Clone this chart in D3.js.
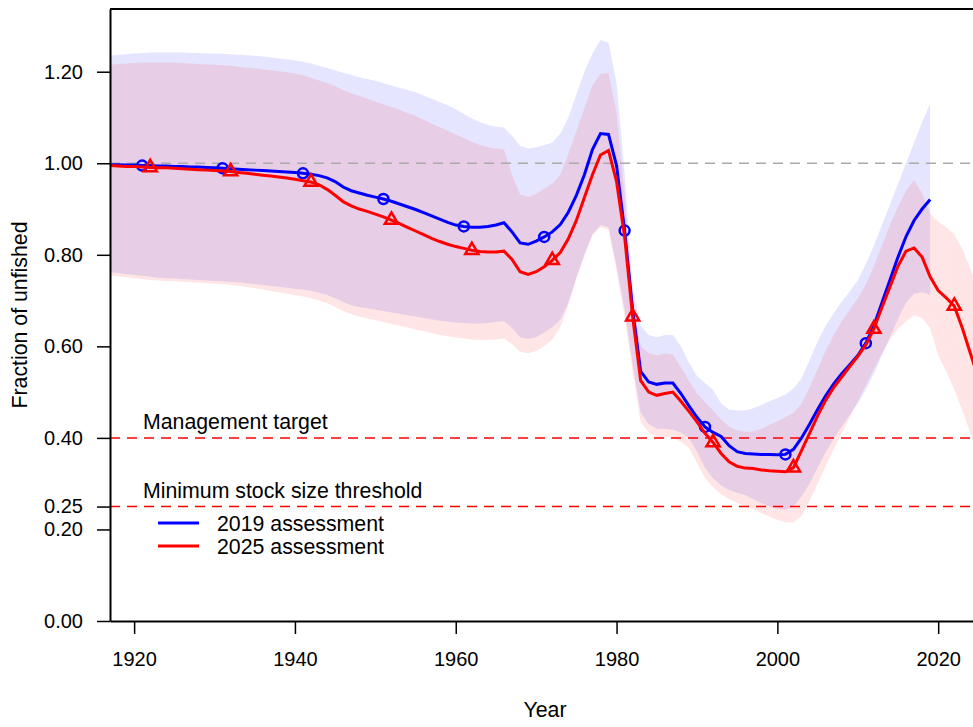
<!DOCTYPE html>
<html>
<head>
<meta charset="utf-8">
<script src="https://cdn.jsdelivr.net/npm/d3@7"></script>
<style>
  body { margin: 0; background: #fff; }
  text { font-family: "Liberation Sans", Arial, sans-serif; }
</style>
</head>
<body>
<div id="chart"></div>
<script>
// ---- data ----
const years2019 = d3.range(1917, 2020);
const years2025 = d3.range(1917, 2026);

const est2019 = [
  0.997, 0.997, 0.996, 0.996, 0.995, 0.995, 0.994, 0.994, 0.993, 0.993,
  0.992, 0.992, 0.991, 0.990, 0.989, 0.988, 0.987, 0.986, 0.985, 0.984,
  0.983, 0.982, 0.981, 0.980, 0.978, 0.976, 0.973, 0.968, 0.960, 0.948,
  0.940, 0.935, 0.930, 0.926, 0.922, 0.917, 0.911, 0.905, 0.899, 0.892,
  0.885, 0.878, 0.871, 0.865, 0.862, 0.860, 0.860, 0.862, 0.865, 0.870,
  0.850, 0.826, 0.823, 0.830, 0.839, 0.850, 0.866, 0.893, 0.930, 0.975,
  1.030, 1.065, 1.063, 0.995, 0.853, 0.680, 0.545, 0.522, 0.517, 0.520,
  0.520, 0.497, 0.470, 0.445, 0.424, 0.412, 0.403, 0.383, 0.370, 0.366,
  0.365, 0.364, 0.364, 0.363, 0.364, 0.375, 0.400, 0.430, 0.462, 0.492,
  0.518, 0.540, 0.560, 0.580, 0.607, 0.645, 0.695, 0.745, 0.795, 0.840,
  0.875, 0.900, 0.921
];
const upper2019 = [
  1.235, 1.237, 1.238, 1.240, 1.241, 1.242, 1.242, 1.242, 1.242, 1.242,
  1.241, 1.241, 1.240, 1.240, 1.239, 1.238, 1.237, 1.236, 1.235, 1.233,
  1.231, 1.229, 1.227, 1.225, 1.222, 1.218, 1.213, 1.208, 1.203, 1.198,
  1.193, 1.188, 1.184, 1.180, 1.175, 1.170, 1.165, 1.160, 1.155, 1.148,
  1.141, 1.134, 1.127, 1.118, 1.108, 1.098, 1.090, 1.084, 1.080, 1.078,
  1.060, 1.038, 1.032, 1.035, 1.040, 1.045, 1.065, 1.100, 1.150, 1.200,
  1.240, 1.270, 1.263, 1.175, 0.980, 0.730, 0.645, 0.625, 0.620, 0.625,
  0.625, 0.600, 0.565, 0.535, 0.520, 0.505, 0.475, 0.462, 0.460, 0.460,
  0.465, 0.472, 0.480, 0.487, 0.495, 0.508, 0.530, 0.570, 0.610, 0.645,
  0.672, 0.698, 0.720, 0.745, 0.780, 0.820, 0.865, 0.910, 0.955, 1.000,
  1.045, 1.090, 1.130
];
const lower2019 = [
  0.762, 0.760, 0.758, 0.756, 0.754, 0.752, 0.750, 0.749, 0.748, 0.747,
  0.746, 0.745, 0.744, 0.743, 0.742, 0.741, 0.740, 0.738, 0.736, 0.734,
  0.732, 0.730, 0.728, 0.726, 0.724, 0.721, 0.717, 0.712, 0.705, 0.697,
  0.690, 0.686, 0.683, 0.680, 0.677, 0.674, 0.671, 0.668, 0.665, 0.662,
  0.659, 0.656, 0.654, 0.652, 0.651, 0.650, 0.650, 0.651, 0.653, 0.655,
  0.640, 0.620, 0.616, 0.620, 0.630, 0.642, 0.658, 0.695, 0.750, 0.800,
  0.845, 0.865, 0.860, 0.775, 0.680, 0.560, 0.455, 0.430, 0.420, 0.420,
  0.418, 0.412, 0.400, 0.370, 0.335, 0.312, 0.296, 0.286, 0.280, 0.275,
  0.266, 0.258, 0.250, 0.245, 0.243, 0.250, 0.272, 0.300, 0.335, 0.368,
  0.398, 0.425, 0.450, 0.475, 0.505, 0.540, 0.580, 0.620, 0.660, 0.695,
  0.715, 0.718, 0.712
];

const est2025 = [
  0.995, 0.994, 0.993, 0.993, 0.992, 0.991, 0.990, 0.990, 0.989, 0.988,
  0.987, 0.986, 0.985, 0.984, 0.983, 0.982, 0.980, 0.978, 0.976, 0.974,
  0.972, 0.970, 0.968, 0.965, 0.962, 0.959, 0.953, 0.943, 0.930, 0.916,
  0.907, 0.900, 0.895, 0.889, 0.883, 0.876, 0.868, 0.860, 0.852, 0.844,
  0.836, 0.829, 0.823, 0.818, 0.814, 0.810, 0.807, 0.806, 0.806, 0.808,
  0.790, 0.763, 0.757, 0.763, 0.774, 0.788, 0.805, 0.835, 0.875, 0.925,
  0.975, 1.018, 1.028, 0.960, 0.840, 0.665, 0.525, 0.500, 0.493, 0.497,
  0.500, 0.480, 0.458, 0.435, 0.410, 0.390, 0.366, 0.348, 0.338, 0.334,
  0.333, 0.330, 0.328, 0.327, 0.326, 0.335, 0.372, 0.410, 0.448, 0.482,
  0.510, 0.533, 0.556, 0.578, 0.603, 0.638, 0.685, 0.730, 0.775, 0.808,
  0.815, 0.795, 0.752, 0.722, 0.706, 0.688, 0.640, 0.585, 0.530
];
const upper2025 = [
  1.215, 1.217, 1.218, 1.219, 1.220, 1.220, 1.220, 1.220, 1.220, 1.219,
  1.218, 1.217, 1.216, 1.215, 1.214, 1.213, 1.211, 1.209, 1.207, 1.205,
  1.203, 1.201, 1.199, 1.196, 1.192, 1.187, 1.181, 1.175, 1.168, 1.160,
  1.153, 1.147, 1.141, 1.135, 1.129, 1.123, 1.117, 1.110, 1.103, 1.095,
  1.087, 1.079, 1.071, 1.063, 1.055, 1.047, 1.040, 1.035, 1.032, 1.030,
  0.975, 0.932, 0.927, 0.933, 0.945, 0.955, 0.975, 1.020, 1.070, 1.120,
  1.170, 1.195, 1.198, 1.110, 0.930, 0.700, 0.600, 0.585, 0.580, 0.585,
  0.582, 0.555, 0.525, 0.497, 0.478, 0.460, 0.440, 0.425, 0.416, 0.413,
  0.414, 0.420, 0.428, 0.437, 0.445, 0.455, 0.475, 0.510, 0.550, 0.590,
  0.625, 0.655, 0.680, 0.705, 0.735, 0.775, 0.820, 0.865, 0.905, 0.940,
  0.963, 0.935, 0.890, 0.872, 0.860, 0.845, 0.812, 0.770, 0.720
];
const lower2025 = [
  0.755, 0.753, 0.751, 0.749, 0.747, 0.745, 0.744, 0.743, 0.742, 0.741,
  0.740, 0.739, 0.738, 0.737, 0.736, 0.734, 0.732, 0.730, 0.727, 0.724,
  0.721, 0.718, 0.715, 0.712, 0.709, 0.705, 0.700, 0.694, 0.686, 0.677,
  0.670, 0.665, 0.661, 0.657, 0.653, 0.649, 0.645, 0.641, 0.637, 0.633,
  0.629, 0.625, 0.622, 0.619, 0.617, 0.615, 0.614, 0.614, 0.615, 0.617,
  0.605, 0.588, 0.585, 0.590, 0.600, 0.615, 0.642, 0.690, 0.748, 0.798,
  0.842, 0.861, 0.855, 0.765, 0.665, 0.545, 0.435, 0.412, 0.402, 0.402,
  0.400, 0.392, 0.378, 0.345, 0.312, 0.292, 0.277, 0.266, 0.258, 0.252,
  0.244, 0.236, 0.228, 0.221, 0.216, 0.215, 0.230, 0.262, 0.300, 0.338,
  0.375, 0.410, 0.445, 0.480, 0.515, 0.550, 0.585, 0.615, 0.638, 0.655,
  0.668, 0.662, 0.640, 0.580, 0.545, 0.505, 0.460, 0.410, 0.360
];

const markerYears2019 = [1921, 1931, 1941, 1951, 1961, 1971, 1981, 1991, 2001, 2011];
const markerYears2025 = [1922, 1932, 1942, 1952, 1962, 1972, 1982, 1992, 2002, 2012, 2022];

const yTicks = [0, 0.2, 0.25, 0.4, 0.6, 0.8, 1.0, 1.2];
const xTicks = [1920, 1940, 1960, 1980, 2000, 2020];
const refLevels = [
  { value: 0.40, label: "Management target" },
  { value: 0.25, label: "Minimum stock size threshold" }
];
const seriesNames = ["2019 assessment", "2025 assessment"];

// ---- layout ----
const W = 973, H = 727;
const margin = { top: 9, right: -7, bottom: 106, left: 110 };
const width = W - margin.left - margin.right;
const height = H - margin.top - margin.bottom;
const labelSize = "21.3px";

const svg = d3.select("#chart")
  .append("svg")
  .attr("width", W)
  .attr("height", H)
  .append("g")
  .attr("transform", `translate(${margin.left},${margin.top})`);

const x = d3.scaleLinear().domain([1917, 2025.2]).range([0, width]);
const y = d3.scaleLinear().domain([0, 1.337]).range([height, 0]);

svg.append("clipPath").attr("id", "plotclip")
  .append("rect").attr("width", width).attr("height", height);

const plot = svg.append("g").attr("clip-path", "url(#plotclip)");

const toRows = (yrs, est, lo, hi) => yrs.map((yr, i) => ({ year: yr, est: est[i], lo: lo[i], hi: hi[i] }));
const d2019 = toRows(years2019, est2019, lower2019, upper2019);
const d2025 = toRows(years2025, est2025, lower2025, upper2025);

const band = d3.area().x(d => x(d.year)).y0(d => y(d.lo)).y1(d => y(d.hi));
const line = d3.line().x(d => x(d.year)).y(d => y(d.est));

// uncertainty bands
plot.append("path").datum(d2019).attr("d", band).attr("fill", "rgba(0,0,255,0.1)");
plot.append("path").datum(d2025).attr("d", band).attr("fill", "rgba(255,0,0,0.1)");

// reference lines
plot.append("line")
  .attr("x1", 0).attr("x2", width)
  .attr("y1", y(1)).attr("y2", y(1))
  .attr("stroke", "#aaaaaa").attr("stroke-width", 1.5)
  .attr("stroke-dasharray", "10,7");

refLevels.forEach(r => {
  plot.append("line")
    .attr("x1", 0).attr("x2", width)
    .attr("y1", y(r.value)).attr("y2", y(r.value))
    .attr("stroke", "#ff0000").attr("stroke-width", 1.5)
    .attr("stroke-dasharray", "10,7");
  svg.append("text")
    .attr("x", 33).attr("y", y(r.value) - 9)
    .style("font-size", labelSize)
    .text(r.label);
});

// 2019 assessment
plot.append("path").datum(d2019).attr("d", line)
  .attr("fill", "none").attr("stroke", "#0000ff").attr("stroke-width", 3);
plot.selectAll(".m2019")
  .data(d2019.filter(d => markerYears2019.includes(d.year)))
  .join("circle")
  .attr("cx", d => x(d.year)).attr("cy", d => y(d.est)).attr("r", 5)
  .attr("fill", "none").attr("stroke", "#0000ff").attr("stroke-width", 2.5);

// 2025 assessment
plot.append("path").datum(d2025).attr("d", line)
  .attr("fill", "none").attr("stroke", "#ff0000").attr("stroke-width", 3);
const tri = d3.symbol().type(d3.symbolTriangle).size(75);
plot.selectAll(".m2025")
  .data(d2025.filter(d => markerYears2025.includes(d.year)))
  .join("path")
  .attr("d", tri)
  .attr("transform", d => `translate(${x(d.year)},${y(d.est)})`)
  .attr("fill", "none").attr("stroke", "#ff0000").attr("stroke-width", 2.5);

// axes
const yAxis = svg.append("g")
  .call(d3.axisLeft(y).tickValues(yTicks).tickFormat(d3.format(".2f"))
    .tickSize(13).tickSizeOuter(0).tickPadding(14));
const xAxis = svg.append("g")
  .attr("transform", `translate(0,${height})`)
  .call(d3.axisBottom(x).tickValues(xTicks).tickFormat(d3.format("d"))
    .tickSize(13).tickSizeOuter(0).tickPadding(18));
[yAxis, xAxis].forEach(g => {
  g.select(".domain").attr("stroke-width", 2);
  g.selectAll(".tick line").attr("stroke-width", 1.5);
  g.selectAll("text").style("font-size", "20px")
    .style("font-family", '"Liberation Sans", Arial, sans-serif').attr("fill", "#000");
});

// top border
svg.append("line")
  .attr("x1", 0).attr("x2", width).attr("y1", 0).attr("y2", 0)
  .attr("stroke", "#000").attr("stroke-width", 2);

// axis titles
svg.append("text")
  .attr("text-anchor", "middle")
  .attr("transform", `translate(${27 - margin.left},${height / 2}) rotate(-90)`)
  .style("font-size", labelSize)
  .text("Fraction of unfished");

svg.append("text")
  .attr("text-anchor", "middle")
  .attr("x", width / 2).attr("y", 717 - margin.top)
  .style("font-size", labelSize)
  .text("Year");

// legend
const legend = svg.append("g").attr("transform", `translate(${158 - margin.left},${523 - margin.top})`)
  .selectAll("g")
  .data(seriesNames)
  .join("g")
  .attr("transform", (d, i) => `translate(0,${i * 23})`);
legend.append("line")
  .attr("x1", 0).attr("x2", 41)
  .attr("stroke", (d, i) => i === 0 ? "#0000ff" : "#ff0000")
  .attr("stroke-width", 3);
legend.append("text")
  .attr("x", 59).attr("y", 8)
  .style("font-size", labelSize)
  .text(d => d);
</script>
</body>
</html>
